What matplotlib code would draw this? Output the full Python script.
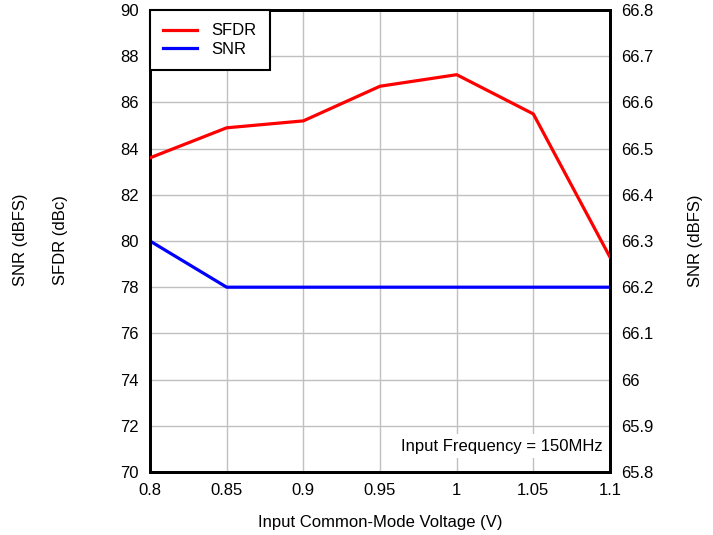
import matplotlib
matplotlib.use("Agg")
import matplotlib.pyplot as plt

plt.rcParams['font.family'] = ['Liberation Sans', 'DejaVu Sans']

voltage = [0.8, 0.85, 0.9, 0.95, 1.0, 1.05, 1.1]
sfdr = [83.6, 84.9, 85.2, 86.7, 87.2, 85.5, 79.3]
snr = [66.3, 66.2, 66.2, 66.2, 66.2, 66.2, 66.2]
x_ticks = [0.8, 0.85, 0.9, 0.95, 1.0, 1.05, 1.1]
x_labels = ["0.8", "0.85", "0.9", "0.95", "1", "1.05", "1.1"]
left_ticks = list(range(70, 91, 2))
right_ticks = [65.8, 65.9, 66.0, 66.1, 66.2, 66.3, 66.4, 66.5, 66.6, 66.7, 66.8]
right_labels = ["65.8", "65.9", "66", "66.1", "66.2", "66.3", "66.4", "66.5", "66.6", "66.7", "66.8"]

fig = plt.figure(figsize=(7.13, 5.35), dpi=100)
ax = fig.add_axes([150/713, 1 - 472/535, 460/713, 462/535])
ax2 = ax.twinx()

fs = 12
l1, = ax.plot(voltage, sfdr, color='#ff0000', lw=2.3, label='SFDR', zorder=3)
l2, = ax2.plot(voltage, snr, color='#0000ff', lw=2.3, label='SNR', zorder=3)

ax.set_xlim(0.8, 1.1)
ax.set_ylim(70, 90)
ax2.set_ylim(65.8, 66.8)
ax.set_xticks(x_ticks)
ax.set_xticklabels(x_labels, fontsize=fs)
ax.set_yticks(left_ticks)
ax.set_yticklabels([str(t) for t in left_ticks], fontsize=fs)
ax2.set_yticks(right_ticks)
ax2.set_yticklabels(right_labels, fontsize=fs)

# grid drawn on the lower (twin) axes so both lines sit above it
ax.grid(False)
ax2.grid(True, axis='y', color='#c0c0c0', lw=1.0, zorder=0)
for xv in x_ticks:
    ax2.axvline(xv, color='#c0c0c0', lw=1.0, zorder=0)
for a in (ax, ax2):
    a.tick_params(length=0, pad=8)
    for s in a.spines.values():
        s.set_linewidth(2.0)
        s.set_color('black')

ax.set_xlabel('Input Common-Mode Voltage (V)', fontsize=fs, labelpad=12)
ax2.set_ylabel('SNR (dBFS)', fontsize=fs, labelpad=25)
fig.text(21/713, 1 - 240/535, 'SNR (dBFS)', rotation=90, fontsize=fs, ha='center', va='center')
fig.text(61/713, 1 - 240/535, 'SFDR (dBc)', rotation=90, fontsize=fs, ha='center', va='center')

ax2.text(0.985, 0.04, 'Input Frequency = 150MHz', transform=ax2.transAxes, ha='right', va='bottom',
         fontsize=fs, bbox=dict(facecolor='white', edgecolor='none', pad=3), zorder=5)

leg = ax.legend(handles=[l1, l2], loc='upper left', fontsize=fs, frameon=True, fancybox=False,
                edgecolor='black', borderaxespad=0, handlelength=2.0, handletextpad=0.9,
                borderpad=0.8, labelspacing=0.22, framealpha=1)
leg.get_frame().set_linewidth(1.5)
leg.set_zorder(10)
ax.set_zorder(ax2.get_zorder() + 1)
ax.patch.set_visible(False)

fig.savefig('out.png', dpi=100)
